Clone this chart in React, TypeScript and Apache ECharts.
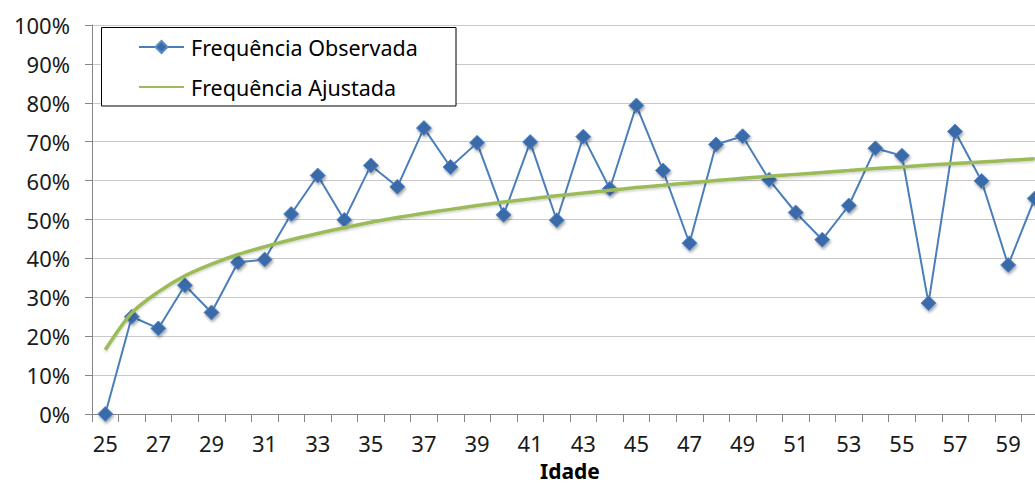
import React, { useEffect, useRef } from "react";
import * as echarts from "echarts";

const ages = [
  "25", "26", "27", "28", "29", "30", "31", "32", "33", "34", "35", "36",
  "37", "38", "39", "40", "41", "42", "43", "44", "45", "46", "47", "48",
  "49", "50", "51", "52", "53", "54", "55", "56", "57", "58", "59", "60",
];

const observed = [
  0, 25, 22, 33.1, 26.1, 39, 39.7, 51.4, 61.3, 49.9, 63.9, 58.4,
  73.5, 63.5, 69.7, 51.2, 69.9, 49.8, 71.3, 57.9, 79.3, 62.6, 43.9, 69.3,
  71.4, 60.2, 51.8, 44.8, 53.6, 68.3, 66.4, 28.5, 72.6, 59.9, 38.3, 55.4,
];

const fitted = [
  16.5, 26.0, 31.4, 35.5, 38.5, 41.0, 43.0, 44.8, 46.4, 47.9, 49.3, 50.5,
  51.6, 52.6, 53.6, 54.5, 55.3, 56.1, 56.8, 57.5, 58.2, 58.8, 59.4, 60.0,
  60.6, 61.1, 61.6, 62.1, 62.6, 63.1, 63.5, 64.0, 64.4, 64.8, 65.2, 65.6,
];

const seriesNames = ["Frequência Observada", "Frequência Ajustada"];
const xAxisTitle = "Idade";

const FONT = "'Noto Sans', 'Open Sans', sans-serif";

export default function App() {
  const ref = useRef<HTMLDivElement>(null);

  useEffect(() => {
    document.body.style.margin = "0";
    const chart = echarts.init(ref.current!, null, { renderer: "svg" });
    chart.setOption({
      animation: false,
      backgroundColor: "#ffffff",
      textStyle: { fontFamily: FONT },
      grid: {
        left: 92,
        top: 25,
        bottom: 74,
        right: -13,
        containLabel: false,
        outerBoundsMode: "none",
      },
      xAxis: {
        type: "category",
        data: ages,
        boundaryGap: true,
        name: xAxisTitle,
        nameLocation: "middle",
        nameGap: 46,
        nameTextStyle: { fontSize: 21, lineHeight: 21, fontWeight: "bold", color: "#000", fontFamily: FONT },
        axisLine: { lineStyle: { color: "#868686", width: 1 } },
        axisTick: { show: true, interval: 0, length: 8, lineStyle: { color: "#868686" } },
        axisLabel: { interval: 1, fontSize: 22, color: "#1a1a1a", margin: 18, fontFamily: FONT },
        splitLine: { show: false },
      },
      yAxis: {
        type: "value",
        min: 0,
        max: 100,
        interval: 10,
        axisLine: { show: true, lineStyle: { color: "#868686", width: 1 } },
        axisTick: { show: true, length: 7, lineStyle: { color: "#868686" } },
        axisLabel: { formatter: "{value}%", fontSize: 22, color: "#1a1a1a", margin: 22, fontFamily: FONT },
        splitLine: { show: true, lineStyle: { color: "#C8C8C8", width: 1 } },
      },
      graphic: [
        {
          type: "rect",
          z: 3,
          shape: { x: 101.5, y: 27.5, width: 354.5, height: 78.5 },
          style: { fill: "#ffffff", stroke: "#000000", lineWidth: 1 },
        },
      ],
      legend: {
        left: 138,
        top: 36,
        orient: "vertical",
        padding: 0,
        itemGap: 18,
        itemWidth: 45,
        itemHeight: 15,
        z: 5,
        textStyle: { fontSize: 21.5, color: "#000", fontFamily: FONT, lineHeight: 22, padding: [0, 0, 0, 2] },
        data: [
          { name: seriesNames[0] },
          { name: seriesNames[1], itemStyle: { opacity: 0 } },
        ],
      },
      series: [
        {
          name: seriesNames[0],
          type: "line",
          data: observed,
          symbol: "diamond",
          symbolSize: 15,
          lineStyle: { color: "#4A7EBB", width: 2 },
          itemStyle: {
            color: "#3A6BA8",
            borderColor: "#5A8AC6",
            borderWidth: 1,
            shadowBlur: 3,
            shadowColor: "rgba(0,0,0,0.35)",
            shadowOffsetX: 1,
            shadowOffsetY: 2,
          },
          z: 2,
        },
        {
          name: seriesNames[1],
          type: "line",
          data: fitted,
          symbol: "none",
          smooth: 0.3,
          lineStyle: {
            color: "#9BBB59",
            width: 3.5,
            shadowBlur: 2,
            shadowColor: "rgba(0,0,0,0.2)",
            shadowOffsetY: 1.5,
          },
          itemStyle: { color: "#9BBB59" },
          z: 3,
        },
      ],
    });
    return () => chart.dispose();
  }, []);

  return (
    <div
      ref={ref}
      style={{ position: "absolute", left: 0, top: 0, width: 1035, height: 488 }}
    />
  );
}
